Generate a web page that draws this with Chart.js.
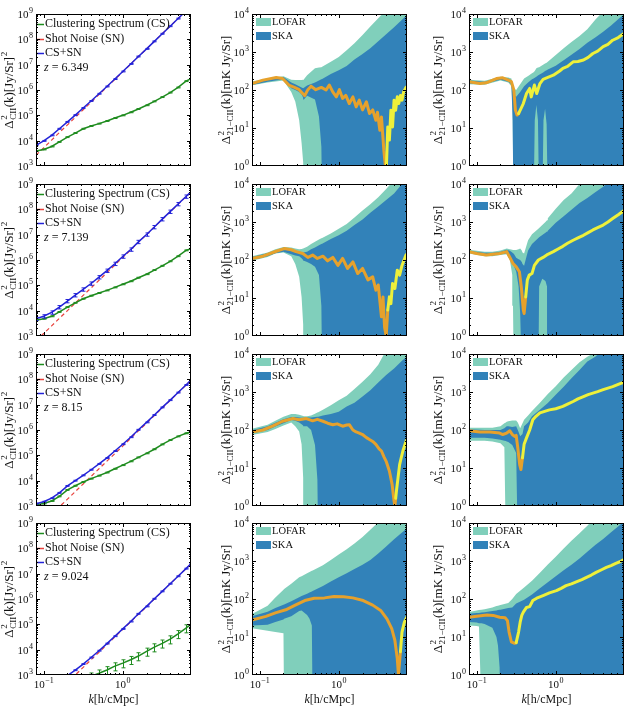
<!DOCTYPE html>
<html>
<head>
<meta charset="utf-8">
<title>CII and 21cm x CII power spectra</title>
<script src="https://cdn.jsdelivr.net/npm/chart.js@4.4.1/dist/chart.umd.min.js"></script>
<style>
  html, body { margin: 0; padding: 0; background: #fff; overflow: hidden; }
  #fig { position: relative; width: 627px; height: 706px; }
  #fig canvas { position: absolute; }
</style>
</head>
<body>
<div id="fig"></div>
<script>
// ---------- CII auto spectrum (left column) ----------
const kCII = [0.08, 0.1, 0.126, 0.158, 0.2, 0.251, 0.316, 0.398, 0.501, 0.631, 0.794, 1.0, 1.26, 1.58, 2.0, 2.51, 3.16, 3.98, 5.01, 6.31, 7.3];
const redshifts = ['6.349', '7.139', '8.15', '9.024'];

const cs1 = [3.9e3, 4.5e3, 5.9e3, 8.9e3, 1.38e4, 2.0e4, 2.95e4, 3.8e4, 4.7e4, 6.0e4, 7.8e4, 1.0e5, 1.32e5, 1.78e5, 2.5e5, 3.55e5, 5.25e5, 7.9e5, 1.26e6, 2.24e6, 2.8e6];
const sn1 = [2.7e3, 5.2e3, 1.05e4, 2.1e4, 4.2e4, 8.3e4, 1.66e5, 3.3e5, 6.6e5, 1.32e6, 2.6e6, 5.2e6, 1.05e7, 2.1e7, 4.2e7, 8.3e7, 1.66e8, 3.3e8, 6.6e8, 1.32e9, 2.0e9];
const tot1 = [6.6e3, 9.8e3, 1.62e4, 2.95e4, 5.5e4, 1.02e5, 1.95e5, 3.7e5, 7.1e5, 1.38e6, 2.7e6, 5.4e6, 1.07e7, 2.1e7, 4.2e7, 8.3e7, 1.66e8, 3.3e8, 6.6e8, 1.32e9, 2.0e9];

const cs2 = [4.2e3, 4.8e3, 6.0e3, 8.9e3, 1.38e4, 2.04e4, 2.95e4, 3.9e4, 5.0e4, 6.3e4, 8.3e4, 1.1e5, 1.45e5, 2.0e5, 2.75e5, 4.0e5, 5.9e5, 8.9e5, 1.41e6, 2.4e6, 2.8e6];
const sn2 = [6.5e2, 1.26e3, 2.5e3, 5.0e3, 1.0e4, 2.0e4, 4.0e4, 7.9e4, 1.58e5, 3.16e5, 6.3e5, 1.26e6, 2.5e6, 5.0e6, 1.0e7, 2.0e7, 4.0e7, 7.9e7, 1.58e8, 3.16e8, 4.9e8];
const tot2 = [4.8e3, 6.0e3, 8.5e3, 1.38e4, 2.4e4, 4.1e4, 6.9e4, 1.18e5, 2.1e5, 3.8e5, 7.1e5, 1.38e6, 2.6e6, 5.2e6, 1.02e7, 2.0e7, 4.1e7, 8.1e7, 1.62e8, 3.2e8, 4.9e8];

const cs3 = [1.12e3, 1.26e3, 1.58e3, 2.4e3, 4.3e3, 6.3e3, 8.9e3, 1.2e4, 1.58e4, 2.1e4, 2.95e4, 4.1e4, 5.8e4, 8.3e4, 1.2e5, 1.74e5, 2.7e5, 4.0e5, 5.6e5, 7.4e5, 8.3e5];
const sn3 = [1.2e2, 2.3e2, 4.7e2, 9.3e2, 1.86e3, 3.7e3, 7.4e3, 1.48e4, 2.95e4, 5.9e4, 1.17e5, 2.3e5, 4.7e5, 9.3e5, 1.86e6, 3.7e6, 7.4e6, 1.48e7, 2.95e7, 5.9e7, 9.1e7];
const tot3 = [1.23e3, 1.48e3, 2.04e3, 3.3e3, 6.2e3, 1.0e4, 1.62e4, 2.7e4, 4.6e4, 7.9e4, 1.48e5, 2.75e5, 5.2e5, 1.02e6, 2.0e6, 3.9e6, 7.8e6, 1.51e7, 3.0e7, 6.0e7, 9.3e7];

const cs4 = [1.78e2, 2.24e2, 2.8e2, 3.5e2, 4.5e2, 5.6e2, 7.1e2, 8.9e2, 1.17e3, 1.58e3, 2.24e3, 2.95e3, 4.0e3, 5.6e3, 8.5e3, 1.26e4, 1.78e4, 2.6e4, 4.2e4, 7.1e4, 1.0e5];
const sn4 = [32, 63, 1.26e2, 2.5e2, 5.0e2, 1.0e3, 2.0e3, 4.0e3, 7.9e3, 1.58e4, 3.16e4, 6.3e4, 1.26e5, 2.5e5, 5.0e5, 1.0e6, 2.0e6, 4.0e6, 7.9e6, 1.58e7, 2.45e7];
const tot4 = [2.1e2, 2.9e2, 4.1e2, 6.0e2, 9.5e2, 1.55e3, 2.7e3, 4.9e3, 9.1e3, 1.74e4, 3.4e4, 6.6e4, 1.29e5, 2.6e5, 5.1e5, 1.02e6, 2.0e6, 4.0e6, 7.9e6, 1.58e7, 2.45e7];

// relative error bar half-sizes per redshift
const relErrCS = [0.04, 0.04, 0.04, 0.35];
const relErrTot = [0.04, 0.15, 0.04, 0.04];

// ---------- 21cm x CII cross spectrum, middle column (A) ----------
const kA1 = [0.0794, 0.126, 0.2, 0.251, 0.282, 0.316, 0.339, 0.355, 0.363, 0.398, 0.501, 0.562, 0.603, 0.617, 0.794, 1.0, 1.26, 1.58, 2.0, 2.51, 3.16, 3.98, 5.01, 6.31, 7.94];
const lofUpA1 = [166, 200, 229, 186, 182, 182, 182, 186, 191, 245, 372, 389, 398, 407, 550, 741, 1120, 1700, 2820, 4680, 7760, 12600, 20000, 31600, 50100];
const lofLoA1 = [132, 158, 178, 89, 50, 16, 4, 1.26, 0.1, 0.1, 0.1, 0.1, 0.1, 0.1, 0.1, 0.1, 0.1, 0.1, 0.1, 0.1, 0.1, 0.1, 0.1, 0.1, 0.1];
const skaUpA1 = [158, 191, 219, 158, 141, 126, 117, 112, 112, 132, 158, 178, 191, 195, 263, 331, 427, 631, 891, 1260, 1910, 2950, 4470, 7080, 11200];
const skaLoA1 = [135, 166, 191, 112, 100, 89, 76, 63, 56, 71, 56, 20, 3.2, 0.1, 0.1, 0.1, 0.1, 0.1, 0.1, 0.1, 0.1, 0.1, 0.1, 0.1, 0.1];
const kSigA1 = [0.08, 0.11, 0.162, 0.195, 0.234, 0.275, 0.316, 0.372, 0.407, 0.447, 0.513, 0.603, 0.692, 0.759, 0.841, 0.933, 1.02, 1.12, 1.23, 1.36, 1.51, 1.66, 1.82, 2.0, 2.24, 2.45, 2.69, 2.95, 3.09, 3.31, 3.47, 3.72, 3.89, 3.98, 4.17, 4.37, 4.57, 4.79, 5.01, 5.25, 5.5, 5.75, 6.03, 6.31, 6.61, 7.08, 7.41];
const sigA1 = [148, 182, 214, 200, 135, 117, 102, 71, 102, 126, 102, 117, 100, 135, 89, 66, 102, 60, 72, 44, 66, 36, 54, 30, 49, 24, 30, 16, 26, 8.7, 19.5, 2.6, 1.0, -0.63, -10.7, -4.8, -29.5, -10.7, -54, -29.5, -66, -44, -72, -54, -89, -117, -126];

const kA2 = [0.0794, 0.126, 0.158, 0.2, 0.251, 0.282, 0.316, 0.339, 0.355, 0.363, 0.398, 0.447, 0.501, 0.562, 0.603, 0.617, 0.794, 1.0, 1.26, 1.58, 2.0, 2.51, 3.16, 3.98, 5.01, 6.31, 7.94];
const lofUpA2 = [126, 158, 191, 219, 214, 200, 191, 195, 200, 200, 224, 263, 302, 347, 372, 380, 501, 661, 891, 1320, 2000, 2950, 4470, 7410, 12600, 20000, 31600];
const lofLoA2 = [95, 120, 148, 158, 126, 79, 36, 10.7, 2.0, 0.1, 0.1, 0.1, 0.1, 0.1, 0.1, 0.1, 0.1, 0.1, 0.1, 0.1, 0.1, 0.1, 0.1, 0.1, 0.1, 0.1, 0.1];
const skaUpA2 = [120, 151, 178, 209, 191, 178, 166, 162, 158, 158, 166, 191, 214, 245, 263, 269, 355, 447, 589, 832, 1170, 1740, 2570, 3800, 5620, 10000, 15800];
const skaLoA2 = [100, 126, 151, 166, 141, 132, 126, 112, 100, 95, 89, 79, 66, 40, 6.3, 0.1, 0.1, 0.1, 0.1, 0.1, 0.1, 0.1, 0.1, 0.1, 0.1, 0.1, 0.1];
const kSigA2 = [0.08, 0.11, 0.162, 0.204, 0.251, 0.288, 0.351, 0.407, 0.468, 0.537, 0.631, 0.724, 0.841, 0.977, 1.12, 1.29, 1.51, 1.74, 2.0, 2.34, 2.69, 2.95, 3.16, 3.47, 3.63, 3.8, 3.98, 4.17, 4.37, 4.57, 4.79, 5.13, 5.5, 5.89, 6.31, 7.08, 7.41];
const sigA2 = [110, 126, 170, 200, 186, 166, 148, 117, 135, 110, 126, 95, 117, 72, 110, 60, 89, 44, 60, 30, 36, 16, 22, 3.2, 10.7, 1.7, 1.0, -4.8, -10.7, -7.1, -24, -17.8, -54, -40, -72, -135, -148];

const kA3 = [0.0794, 0.126, 0.158, 0.2, 0.251, 0.282, 0.316, 0.339, 0.355, 0.363, 0.398, 0.447, 0.501, 0.537, 0.55, 0.631, 0.794, 1.0, 1.26, 1.58, 2.0, 2.51, 3.16, 3.98, 5.01, 6.31, 7.94];
const lofUpA3 = [107, 138, 174, 224, 263, 263, 251, 240, 234, 229, 229, 240, 269, 288, 295, 339, 447, 603, 794, 1200, 1860, 2950, 5250, 12600, 22400, 39800, 63100];
const lofLoA3 = [74, 89, 107, 132, 158, 126, 91, 42, 5.5, 0.1, 0.1, 0.1, 0.1, 0.1, 0.1, 0.1, 0.1, 0.1, 0.1, 0.1, 0.1, 0.1, 0.1, 0.1, 0.1, 0.1, 0.1];
const skaUpA3 = [98, 126, 155, 191, 219, 219, 214, 209, 209, 209, 214, 214, 219, 224, 224, 240, 263, 302, 417, 525, 759, 1120, 1780, 2820, 4170, 6610, 10000];
const skaLoA3 = [81, 100, 123, 151, 182, 174, 158, 141, 132, 126, 126, 100, 40, 5.0, 0.1, 0.1, 0.1, 0.1, 0.1, 0.1, 0.1, 0.1, 0.1, 0.1, 0.1, 0.1, 0.1];
const kSigA3 = [0.08, 0.11, 0.145, 0.195, 0.263, 0.316, 0.389, 0.468, 0.537, 0.631, 0.724, 0.841, 0.955, 1.12, 1.26, 1.36, 1.51, 1.66, 1.82, 2.0, 2.24, 2.45, 2.69, 2.95, 3.24, 3.47, 3.72, 3.98, 4.37, 4.73, 5.01, 5.13, 5.25, 5.37, 5.62, 5.89, 6.17, 6.46, 7.08, 7.3];
const sigA3 = [89, 100, 126, 170, 200, 186, 200, 174, 191, 170, 151, 138, 145, 126, 135, 138, 100, 89, 83, 76, 63, 56, 50, 42, 32, 28, 20, 15, 8.3, 3.7, 1.35, 1.0, -1.6, -2.5, -5.5, -12.3, -18.6, -27.5, -50, -56];

const kA4 = [0.0794, 0.126, 0.158, 0.2, 0.204, 0.251, 0.316, 0.339, 0.398, 0.427, 0.457, 0.468, 0.631, 0.794, 1.0, 1.26, 1.58, 2.0, 2.51, 3.16, 3.98, 5.01, 6.31, 7.94];
const lofUpA4 = [40, 66, 110, 174, 182, 251, 372, 398, 479, 513, 550, 562, 776, 1070, 1480, 2040, 2880, 4270, 6610, 10500, 15800, 25100, 39800, 63100];
const lofLoA4 = [17, 14.5, 13.5, 12.6, 0.1, 0.1, 0.1, 0.1, 0.1, 0.1, 0.1, 0.1, 0.1, 0.1, 0.1, 0.1, 0.1, 0.1, 0.1, 0.1, 0.1, 0.1, 0.1, 0.1];
const skaUpA4 = [35, 46, 58, 71, 72, 87, 112, 120, 138, 148, 158, 162, 219, 288, 372, 479, 617, 794, 1070, 1580, 2400, 3720, 5620, 8510];
const skaLoA4 = [20, 21, 25, 29, 30, 35, 48, 50, 38, 30, 20, 0.1, 0.1, 0.1, 0.1, 0.1, 0.1, 0.1, 0.1, 0.1, 0.1, 0.1, 0.1, 0.1];
const kSigA4 = [0.08, 0.12, 0.158, 0.214, 0.282, 0.372, 0.49, 0.661, 0.871, 1.15, 1.51, 2.04, 2.69, 3.39, 4.07, 4.68, 5.13, 5.5, 5.69, 6.03, 6.31, 6.76, 7.24, 7.76];
const sigA4 = [28, 35, 43, 52, 69, 91, 105, 107, 117, 115, 107, 91, 69, 50, 30, 16.6, 8.1, 2.7, 1.0, -4.1, -13.5, -24.5, -33, -45];

// ---------- 21cm x CII cross spectrum, right column (B) ----------
const kB1 = [0.0794, 0.126, 0.2, 0.251, 0.275, 0.285, 0.292, 0.316, 0.355, 0.398, 0.447, 0.501, 0.525, 0.543, 0.569, 0.596, 0.617, 0.676, 0.7, 0.733, 0.767, 0.794, 1.0, 1.26, 1.58, 2.0, 2.51, 3.16, 3.98, 5.01, 6.31, 7.94];
const lofUpB1 = [186, 174, 224, 214, 200, 141, 112, 100, 141, 200, 234, 275, 295, 316, 372, 389, 398, 447, 468, 501, 525, 550, 832, 1260, 1820, 2630, 3980, 7080, 11700, 17800, 25100, 39800];
const lofLoB1 = [141, 138, 178, 158, 126, 32, 0.1, 0.1, 0.1, 0.1, 0.1, 0.1, 0.1, 0.1, 0.1, 0.1, 0.1, 0.1, 0.1, 0.1, 0.1, 0.1, 0.1, 0.1, 0.1, 0.1, 0.1, 0.1, 0.1, 0.1, 0.1, 0.1];
const skaUpB1 = [178, 166, 214, 200, 178, 100, 79, 66, 89, 126, 158, 191, 200, 209, 224, 240, 251, 282, 295, 316, 331, 347, 437, 603, 851, 1200, 1740, 2400, 3390, 5010, 7590, 11200];
const skaLoB1 = [148, 145, 186, 166, 141, 16, 0.1, 0.1, 0.1, 0.1, 0.1, 0.1, 0.1, 16, 40, 16, 0.1, 0.1, 16, 32, 12.6, 0.1, 0.1, 0.1, 0.1, 0.1, 0.1, 0.1, 0.1, 0.1, 0.1, 0.1];
const kSigB1 = [0.08, 0.11, 0.132, 0.178, 0.214, 0.251, 0.275, 0.295, 0.309, 0.324, 0.339, 0.389, 0.427, 0.468, 0.49, 0.537, 0.575, 0.631, 0.692, 0.794, 0.933, 1.12, 1.23, 1.41, 1.66, 1.91, 2.24, 2.57, 2.95, 3.39, 3.98, 4.57, 5.25, 6.17, 7.3];
const sigB1 = [166, 148, 155, 200, 209, 182, 166, 100, 29.5, 21.9, -24, -44, -81, -110, -66, -135, -81, -148, -191, -214, -245, -316, -372, -417, -550, -562, -617, -724, -912, -1050, -1380, -1580, -2040, -2400, -3090];

const kB2 = [0.0794, 0.126, 0.158, 0.2, 0.24, 0.263, 0.282, 0.288, 0.295, 0.316, 0.339, 0.355, 0.372, 0.38, 0.398, 0.447, 0.501, 0.603, 0.617, 0.676, 0.741, 0.776, 0.794, 1.0, 1.26, 1.58, 2.0, 2.51, 3.16, 3.98, 5.01, 6.31, 7.94];
const lofUpB2 = [186, 166, 166, 178, 200, 191, 186, 182, 182, 182, 191, 200, 178, 158, 148, 331, 479, 661, 692, 832, 1000, 1120, 1260, 2240, 3800, 5620, 10000, 15800, 25100, 39800, 63100, 100000, 158000];
const lofLoB2 = [148, 126, 126, 135, 141, 100, 40, 6.3, 0.1, 0.1, 0.1, 0.1, 0.1, 0.1, 0.1, 0.1, 0.1, 0.1, 0.1, 0.1, 0.1, 0.1, 0.1, 0.1, 0.1, 0.1, 0.1, 0.1, 0.1, 0.1, 0.1, 0.1, 0.1];
const skaUpB2 = [174, 155, 155, 166, 186, 174, 158, 151, 145, 115, 105, 100, 89, 79, 71, 178, 263, 380, 398, 457, 525, 562, 589, 955, 1410, 2090, 3160, 4270, 6030, 8510, 12600, 17800, 25100];
const skaLoB2 = [155, 132, 132, 141, 151, 112, 89, 79, 71, 50, 20, 4.0, 0.1, 0.1, 0.1, 0.1, 0.1, 0.1, 20, 32, 28, 20, 0.1, 0.1, 0.1, 0.1, 0.1, 0.1, 0.1, 0.1, 0.1, 0.1, 0.1];
const kSigB2 = [0.08, 0.1, 0.132, 0.195, 0.24, 0.263, 0.288, 0.316, 0.347, 0.367, 0.389, 0.398, 0.417, 0.437, 0.462, 0.501, 0.537, 0.603, 0.692, 0.794, 0.933, 1.07, 1.23, 1.41, 1.66, 1.91, 2.24, 2.57, 2.95, 3.39, 3.98, 4.57, 5.25, 6.17, 7.3];
const sigB2 = [166, 148, 135, 148, 166, 117, 81, 66, 49, 19.5, 4.8, 3.9, -10.7, -29.5, -40, -44, -72, -100, -117, -141, -166, -195, -229, -275, -331, -380, -447, -525, -617, -708, -832, -1000, -1230, -1550, -2000];

const kB3 = [0.0794, 0.126, 0.158, 0.2, 0.224, 0.234, 0.24, 0.251, 0.282, 0.316, 0.331, 0.339, 0.355, 0.38, 0.398, 0.447, 0.501, 0.631, 0.794, 1.0, 1.26, 1.58, 2.0, 2.51, 3.16, 3.98, 5.01, 6.31, 7.94];
const lofUpB3 = [115, 115, 115, 126, 151, 158, 166, 170, 178, 178, 158, 141, 112, 151, 186, 240, 316, 525, 891, 1410, 2400, 3800, 6030, 8510, 11200, 20000, 31600, 50100, 79400];
const lofLoB3 = [52, 52, 50, 45, 35, 0.1, 0.1, 0.1, 0.1, 0.1, 0.1, 0.1, 0.1, 0.1, 0.1, 0.1, 0.1, 0.1, 0.1, 0.1, 0.1, 0.1, 0.1, 0.1, 0.1, 0.1, 0.1, 0.1, 0.1];
const skaUpB3 = [105, 100, 100, 100, 112, 120, 126, 126, 120, 126, 100, 89, 68, 79, 126, 158, 229, 339, 513, 851, 1380, 2290, 3800, 6310, 8510, 12600, 20000, 31600, 50100];
const skaLoB3 = [63, 63, 60, 55, 52, 51, 50, 48, 40, 25, 0.1, 0.1, 0.1, 0.1, 0.1, 0.1, 0.1, 0.1, 0.1, 0.1, 0.1, 0.1, 0.1, 0.1, 0.1, 0.1, 0.1, 0.1, 0.1];
const kSigB3 = [0.08, 0.11, 0.148, 0.195, 0.214, 0.24, 0.263, 0.282, 0.302, 0.316, 0.331, 0.35, 0.363, 0.38, 0.398, 0.427, 0.468, 0.513, 0.562, 0.631, 0.724, 0.832, 1.0, 1.23, 1.41, 1.66, 1.91, 2.24, 2.57, 2.95, 3.39, 3.98, 4.57, 5.25, 6.17, 7.3];
const sigB3 = [95, 89, 89, 83, 76, 83, 95, 76, 68, 72, 34, 12.3, 9.1, -18.6, -42, -62, -100, -186, -229, -282, -309, -339, -363, -417, -479, -562, -661, -759, -851, -933, -1020, -1150, -1260, -1380, -1580, -1820];

const kB4 = [0.0794, 0.1, 0.107, 0.115, 0.126, 0.158, 0.178, 0.186, 0.195, 0.2, 0.251, 0.282, 0.316, 0.398, 0.501, 0.631, 0.794, 1.0, 1.26, 1.58, 2.0, 2.51, 3.16, 3.98, 5.01, 6.31, 7.94];
const lofUpB4 = [45, 50, 51, 52, 54, 60, 65, 66, 68, 69, 79, 100, 135, 200, 302, 490, 813, 1290, 2140, 3390, 5370, 8510, 14100, 22400, 35500, 56200, 89100];
const lofLoB4 = [20, 19.5, 19, 0.1, 0.1, 0.1, 0.1, 0.1, 0.1, 0.1, 0.1, 0.1, 0.1, 0.1, 0.1, 0.1, 0.1, 0.1, 0.1, 0.1, 0.1, 0.1, 0.1, 0.1, 0.1, 0.1, 0.1];
const skaUpB4 = [41, 43, 43, 44, 45, 48, 50, 51, 52, 52, 58, 60, 76, 95, 132, 191, 275, 398, 575, 794, 1170, 1740, 2630, 3800, 5750, 8510, 12600];
const skaLoB4 = [25, 24, 23, 23, 22, 17.4, 10, 6.0, 1.6, 0.1, 0.1, 0.1, 0.1, 0.1, 0.1, 0.1, 0.1, 0.1, 0.1, 0.1, 0.1, 0.1, 0.1, 0.1, 0.1, 0.1, 0.1];
const kSigB4 = [0.08, 0.1, 0.135, 0.162, 0.195, 0.229, 0.245, 0.257, 0.275, 0.302, 0.316, 0.339, 0.355, 0.372, 0.389, 0.427, 0.468, 0.513, 0.575, 0.692, 0.832, 1.02, 1.17, 1.35, 1.58, 1.82, 2.14, 2.45, 2.82, 3.24, 3.8, 4.37, 5.01, 5.75, 6.46, 7.19];
const sigB4 = [33, 35, 38, 37, 33, 32, 27, 13.5, 7.4, 6.8, -7.1, -13.5, -24.5, -37, -45, -60, -63, -91, -105, -123, -145, -166, -191, -224, -251, -282, -324, -372, -427, -501, -589, -676, -759, -871, -955, -1070];

// ---------- axes ----------
const xRange = [0.08, 7.3];
const yRangeCII = [1e3, 1e9];
const yRange21 = [1, 1e4];
const xMajorTicks = [0.1, 1];
const xMinorTicks = [0.09, 0.2, 0.3, 0.4, 0.5, 0.6, 0.7, 0.8, 0.9, 2, 3, 4, 5, 6, 7];
const yMajorCII = [1e3, 1e4, 1e5, 1e6, 1e7, 1e8, 1e9];
const yMajor21 = [1, 10, 100, 1000, 10000];

// ---------- styling / layout ----------
const SERIF = "'Liberation Serif', 'DejaVu Serif', serif";
const GREEN = '#1f8c1f', RED = '#e8413c', BLUE = '#2323d8';
const LOFAR_C = '#80cfbb', SKA_C = '#3282b9', ORANGE = '#e6a12c', YELLOW = '#eef03a';
const COL_X = [36, 252, 469], ROW_Y = [14, 184, 354, 523], PW = 155, PH = 152;
const CANVAS_X = [0, 196, 413];
const TITLE_X = [8, 29, 24];

const fig = document.getElementById('fig');

function pts(ks, vs) { return ks.map((k, i) => ({x: k, y: vs[i]})); }
function absPts(ks, vs) { return ks.map((k, i) => ({x: k, y: Math.abs(vs[i])})); }

function makeCanvas(c, r) {
  const L = COL_X[c] - CANVAS_X[c], T = 12, R = 6, B = r === 3 ? 40 : 10;
  const W = L + PW + R, H = T + PH + B;
  const cv = document.createElement('canvas');
  cv.width = W; cv.height = H;
  cv.style.left = CANVAS_X[c] + 'px';
  cv.style.top = (ROW_Y[r] - T) + 'px';
  cv.style.width = W + 'px'; cv.style.height = H + 'px';
  fig.appendChild(cv);
  return {cv, pad: {left: L, top: T, right: R, bottom: B}, top: ROW_Y[r] - T};
}

function baseOptions(pad, yr) {
  return {
    responsive: false, animation: false, events: [], devicePixelRatio: 1,
    layout: {padding: pad},
    plugins: {legend: {display: false}, tooltip: {enabled: false}},
    elements: {point: {radius: 0}, line: {tension: 0}},
    scales: {
      x: {type: 'logarithmic', min: xRange[0], max: xRange[1], display: false},
      y: {type: 'logarithmic', min: yr[0], max: yr[1], display: false}
    }
  };
}

// "10^n" label with a raised exponent
function drawPow(ctx, v, x, y, align) {
  const e = String(Math.round(Math.log10(v))).replace('-', '\u2212');
  ctx.font = '11px ' + SERIF; const wb = ctx.measureText('10').width;
  ctx.font = '8px ' + SERIF; const we = ctx.measureText(e).width;
  const w = wb + we + 0.5;
  const x0 = align === 'right' ? x - w : x - w / 2;
  ctx.textAlign = 'left'; ctx.textBaseline = 'alphabetic'; ctx.fillStyle = '#111';
  ctx.font = '11px ' + SERIF; ctx.fillText('10', x0, y + 4);
  ctx.font = '8px ' + SERIF; ctx.fillText(e, x0 + wb + 0.5, y - 1);
}

// text with sub/superscripts, centred on (cx, cy)
function drawRich(ctx, parts, cx, cy, fs) {
  const sm = Math.round(fs * 0.7);
  const F = (s, it) => (it ? 'italic ' : '') + s + 'px ' + SERIF;
  const ws = parts.map(p => {
    if (p.t !== undefined) { ctx.font = F(fs, p.i); return ctx.measureText(p.t).width; }
    ctx.font = F(sm);
    return Math.max(p.sup ? ctx.measureText(p.sup).width : 0, p.sub ? ctx.measureText(p.sub).width : 0) + 1;
  });
  const total = ws.reduce((s, w) => s + w, 0);
  let x = cx - total / 2;
  const base = cy + fs * 0.35;
  ctx.textAlign = 'left'; ctx.textBaseline = 'alphabetic'; ctx.fillStyle = '#111';
  parts.forEach((p, i) => {
    if (p.t !== undefined) { ctx.font = F(fs, p.i); ctx.fillText(p.t, x, base); }
    else {
      ctx.font = F(sm);
      if (p.sup) ctx.fillText(p.sup, x + 0.5, base - fs * 0.42);
      if (p.sub) ctx.fillText(p.sub, x + 0.5, base + fs * 0.25);
    }
    x += ws[i];
  });
}

const titleCII = [{t: '\u0394'}, {sup: '2', sub: 'CII'}, {t: '(k)[Jy/Sr]'}, {sup: '2'}];
const title21 = [{t: '\u0394'}, {sup: '2', sub: '21\u2212CII'}, {t: '(k)[mK Jy/Sr]'}];
const titleX = [{t: 'k', i: true}, {t: '[h/cMpc]'}];

function decor(cfg) {
  return {
    id: 'decor',
    afterDatasetsDraw(chart) {
      if (!cfg.errs) return;
      const {ctx, chartArea: a, scales: {x, y}} = chart;
      ctx.save();
      ctx.beginPath(); ctx.rect(a.left, a.top, a.width, a.height); ctx.clip();
      cfg.errs.forEach(e => {
        ctx.strokeStyle = e.color; ctx.lineWidth = 1;
        e.k.forEach((k, i) => {
          const v = e.v[i], d = v * e.rel;
          const px = Math.round(x.getPixelForValue(k)) + 0.5;
          const y1 = y.getPixelForValue(v + d), y2 = y.getPixelForValue(v - d);
          ctx.beginPath();
          ctx.moveTo(px, y1); ctx.lineTo(px, y2);
          ctx.moveTo(px - 2, y1); ctx.lineTo(px + 2, y1);
          ctx.moveTo(px - 2, y2); ctx.lineTo(px + 2, y2);
          ctx.stroke();
        });
      });
      ctx.restore();
    },
    afterDraw(chart) {
      const {ctx, chartArea: a, scales: {x, y}} = chart;
      ctx.save();
      // legends
      if (cfg.kind === 'cii') {
        const rows = [['Clustering Spectrum (CS)', GREEN, 10], ['Shot Noise (SN)', RED, 25], ['CS+SN', BLUE, 39]];
        ctx.font = '12px ' + SERIF; ctx.textBaseline = 'middle'; ctx.textAlign = 'left';
        rows.forEach(([txt, col, dy]) => {
          ctx.strokeStyle = col; ctx.lineWidth = 1.5;
          ctx.beginPath(); ctx.moveTo(a.left + 1, a.top + dy + 0.5); ctx.lineTo(a.left + 8, a.top + dy + 0.5); ctx.stroke();
          ctx.fillStyle = '#111'; ctx.fillText(txt, a.left + 9, a.top + dy);
        });
        ctx.font = 'italic 12px ' + SERIF;
        ctx.fillText('z', a.left + 8, a.top + 54);
        const wz = ctx.measureText('z').width;
        ctx.font = '12px ' + SERIF;
        ctx.fillText(' = ' + cfg.z, a.left + 8 + wz, a.top + 54);
      } else {
        [['LOFAR', LOFAR_C, 4], ['SKA', SKA_C, 18]].forEach(([txt, col, dy]) => {
          ctx.fillStyle = col; ctx.fillRect(a.left + 4, a.top + dy, 15, 8);
          ctx.fillStyle = '#111'; ctx.font = '10.5px ' + SERIF; ctx.textBaseline = 'middle'; ctx.textAlign = 'left';
          ctx.fillText(txt, a.left + 20, a.top + dy + 4.5);
        });
      }
      // frame and inward ticks
      ctx.strokeStyle = '#000'; ctx.lineWidth = 1;
      ctx.strokeRect(a.left + 0.5, a.top + 0.5, a.width - 1, a.height - 1);
      ctx.beginPath();
      const xt = (vals, len) => vals.forEach(v => {
        const px = Math.round(x.getPixelForValue(v)) + 0.5;
        ctx.moveTo(px, a.bottom); ctx.lineTo(px, a.bottom - len);
        ctx.moveTo(px, a.top); ctx.lineTo(px, a.top + len);
      });
      xt(xMajorTicks, 4); xt(xMinorTicks, 2);
      const yt = (vals, len) => vals.forEach(v => {
        if (v <= cfg.yr[0] || v >= cfg.yr[1]) return;
        const py = Math.round(y.getPixelForValue(v)) + 0.5;
        ctx.moveTo(a.left, py); ctx.lineTo(a.left + len, py);
        ctx.moveTo(a.right, py); ctx.lineTo(a.right - len, py);
      });
      yt(cfg.yMajor, 4);
      const minors = [];
      cfg.yMajor.forEach(m => { for (let j = 2; j < 10; j++) minors.push(m * j); });
      yt(minors, 2);
      ctx.stroke();
      // tick labels
      cfg.yMajor.forEach(v => drawPow(ctx, v, a.left - 3, y.getPixelForValue(v), 'right'));
      if (cfg.row === 3) xMajorTicks.forEach(v => drawPow(ctx, v, x.getPixelForValue(v), a.bottom + 9, 'center'));
      // axis titles
      ctx.save();
      ctx.translate(TITLE_X[cfg.col], (a.top + a.bottom) / 2);
      ctx.rotate(-Math.PI / 2);
      drawRich(ctx, cfg.kind === 'cii' ? titleCII : title21, 0, 0, 13);
      ctx.restore();
      if (cfg.row === 3) drawRich(ctx, titleX, (a.left + a.right) / 2, 699 - cfg.top, 12);
      ctx.restore();
    }
  };
}

// ---------- build the 12 panels ----------
const csRows = [cs1, cs2, cs3, cs4], snRows = [sn1, sn2, sn3, sn4], totRows = [tot1, tot2, tot3, tot4];

csRows.forEach((cs, r) => {
  const {cv, pad, top} = makeCanvas(0, r);
  new Chart(cv, {
    type: 'line',
    data: {datasets: [
      {data: pts(kCII, totRows[r]), borderColor: BLUE, borderWidth: 1.5, fill: false, order: 0},
      {data: pts(kCII, cs), borderColor: GREEN, borderWidth: 1.5, fill: false, order: 1},
      {data: pts(kCII, snRows[r]), borderColor: RED, borderWidth: 1.2, borderDash: [4, 3], fill: false, order: 2}
    ]},
    options: baseOptions(pad, yRangeCII),
    plugins: [decor({kind: 'cii', col: 0, row: r, top, yr: yRangeCII, yMajor: yMajorCII, z: redshifts[r],
      errs: [{k: kCII, v: cs, rel: relErrCS[r], color: GREEN}, {k: kCII, v: totRows[r], rel: relErrTot[r], color: BLUE}]})]
  });
});

const crossPanels = [
  [kA1, lofUpA1, lofLoA1, skaUpA1, skaLoA1, kSigA1, sigA1],
  [kA2, lofUpA2, lofLoA2, skaUpA2, skaLoA2, kSigA2, sigA2],
  [kA3, lofUpA3, lofLoA3, skaUpA3, skaLoA3, kSigA3, sigA3],
  [kA4, lofUpA4, lofLoA4, skaUpA4, skaLoA4, kSigA4, sigA4],
  [kB1, lofUpB1, lofLoB1, skaUpB1, skaLoB1, kSigB1, sigB1],
  [kB2, lofUpB2, lofLoB2, skaUpB2, skaLoB2, kSigB2, sigB2],
  [kB3, lofUpB3, lofLoB3, skaUpB3, skaLoB3, kSigB3, sigB3],
  [kB4, lofUpB4, lofLoB4, skaUpB4, skaLoB4, kSigB4, sigB4]
];

crossPanels.forEach(([kb, lofUp, lofLo, skaUp, skaLo, ks, sig], i) => {
  const c = 1 + Math.floor(i / 4), r = i % 4;
  const {cv, pad, top} = makeCanvas(c, r);
  const none = 'rgba(0,0,0,0)';
  new Chart(cv, {
    type: 'line',
    data: {datasets: [
      {data: absPts(ks, sig), borderColor: ORANGE, borderWidth: 3, fill: false, order: 0,
       borderJoinStyle: 'round', borderCapStyle: 'round',
       segment: {borderColor: s => (sig[s.p0DataIndex] < 0 && sig[s.p1DataIndex] < 0) ? YELLOW : ORANGE}},
      {data: pts(kb, skaUp), borderColor: none, borderWidth: 0, backgroundColor: SKA_C, fill: 2, order: 1},
      {data: pts(kb, skaLo), borderColor: none, borderWidth: 0, fill: false, order: 1},
      {data: pts(kb, lofUp), borderColor: none, borderWidth: 0, backgroundColor: LOFAR_C, fill: 4, order: 2},
      {data: pts(kb, lofLo), borderColor: none, borderWidth: 0, fill: false, order: 2}
    ]},
    options: baseOptions(pad, yRange21),
    plugins: [decor({kind: 'x21', col: c, row: r, top, yr: yRange21, yMajor: yMajor21})]
  });
});
</script>
</body>
</html>
